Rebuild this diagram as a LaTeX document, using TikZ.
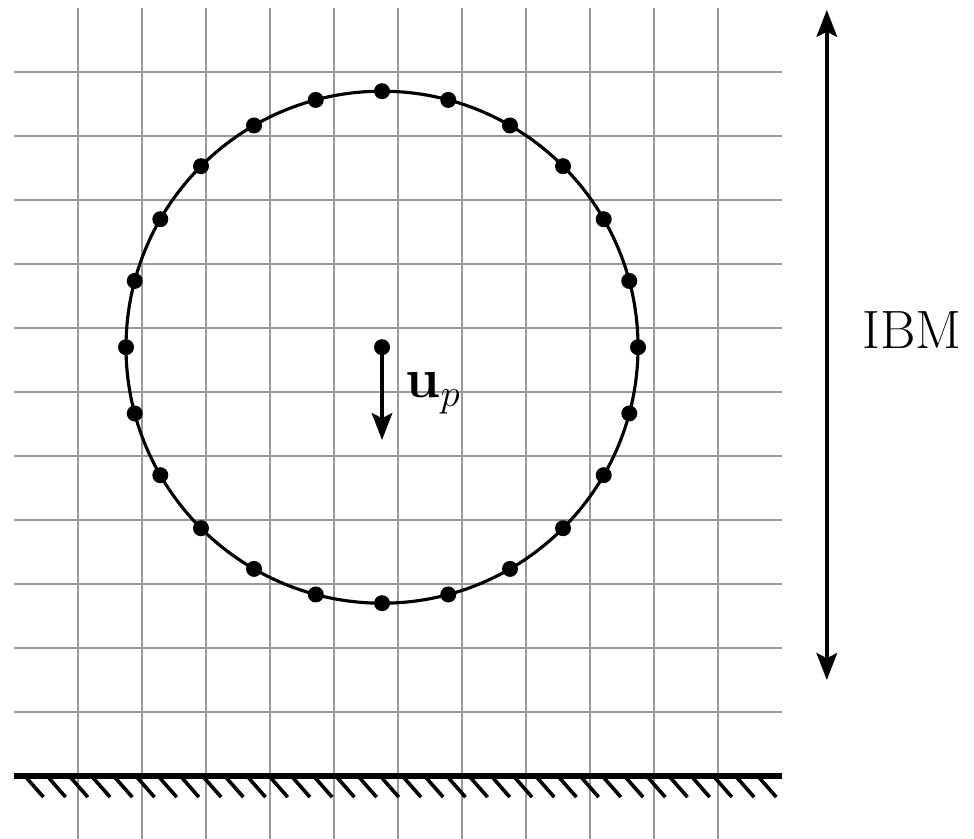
\documentclass[tikz,border=0pt]{standalone}
\usepackage{amsmath,amssymb}
\usepackage{tikz}
\usetikzlibrary{arrows.meta,calc,positioning}

\begin{document}
\begin{tikzpicture}[scale=1.0,>={Stealth[length=0.42cm,width=0.32cm,inset=0.08cm]},
    gridline/.style={gray!80,line width=0.7pt},
    marker/.style={circle,fill=black,inner sep=0pt,minimum size=0.25cm},
    bigfont/.style={font=\fontsize{24}{28}\selectfont}]
  \useasboundingbox (-1.219,-0.969) rectangle (14.0,12.125);
  % Eulerian grid
  \foreach \y in {1,...,11}
    \draw[gridline] (-1,\y) -- (11,\y);
  \foreach \x in {0,...,10}
    \draw[gridline] (\x,-1) -- (\x,12);
  % wall
  \draw[line width=2.3pt] (-1,0) -- (11,0);
  \foreach \i in {0,...,33}
    \draw[line width=1.6pt] ({-0.83+0.347*\i},0) -- ++(0.29,-0.33);
  % particle with Lagrangian markers
  \coordinate (c) at (4.75,6.7);
  \draw[line width=1.4pt] (c) circle (4);
  \foreach \a in {0,15,...,345}
    \node[marker] at ($(c)+(\a:4)$) {};
  \node[marker] (p) at (c) {};
  \coordinate (pv) at (4.75,5.25);
  \draw[->,line width=1.7pt] (p.center) -- (pv);
  \node[bigfont] (up) at (5.55,5.98) {$\mathbf{u}_p$};
  % IBM region
  \coordinate (ibmtop) at (11.7,11.97);
  \coordinate (ibmbot) at (11.7,1.5);
  \draw[<->,line width=1.7pt] (ibmbot) -- (ibmtop);
  \node[bigfont] (ibm) at (13.03,6.97) {IBM};
\end{tikzpicture}
\end{document}
